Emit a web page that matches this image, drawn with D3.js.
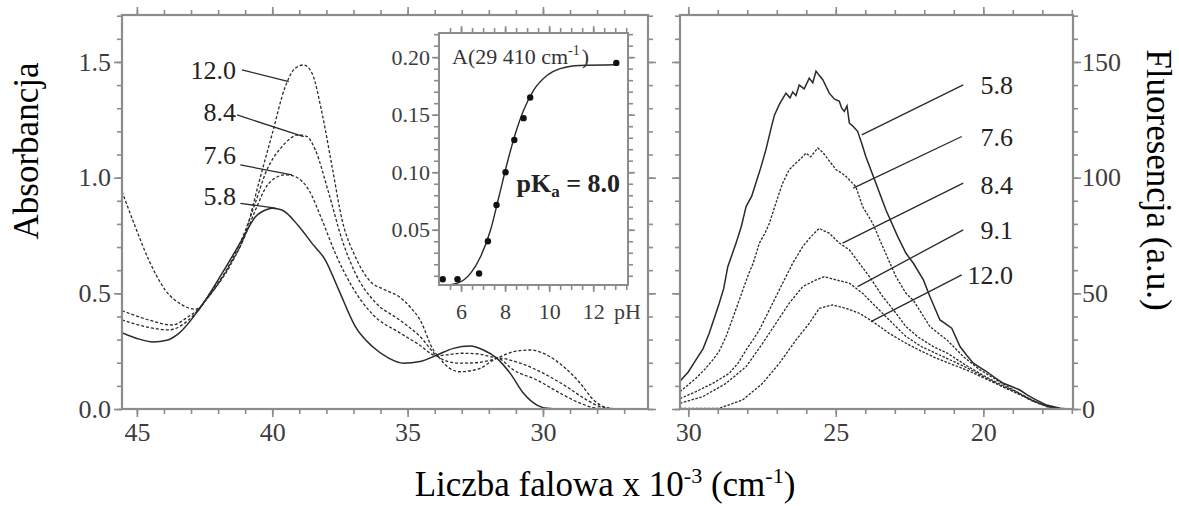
<!DOCTYPE html>
<html>
<head>
<meta charset="utf-8">
<script src="https://cdn.jsdelivr.net/npm/d3@7"></script>
<style>
  body { margin: 0; background: #fff; }
  svg { display: block; }
  svg text { font-family: "Liberation Serif", "Times New Roman", serif !important; }
</style>
</head>
<body>
<svg id="chart" width="1179" height="506"></svg>
<script>
// ---- data ----
// absorbance spectra: [wavenumber x 10^-3, absorbance]
const abs58 = [[45.55,0.33],[45.0,0.305],[44.4,0.29],[43.9,0.297],[43.45,0.327],[42.72,0.428],[41.85,0.587],[41.12,0.731],[40.62,0.831],[40.2,0.862],[40.0,0.868],[39.64,0.86],[39.02,0.79],[38.53,0.716],[38.04,0.644],[37.54,0.514],[36.93,0.356],[36.3,0.27],[35.7,0.22],[35.15,0.198],[34.54,0.205],[33.92,0.233],[33.31,0.262],[32.69,0.272],[32.2,0.255],[31.7,0.219],[31.21,0.154],[30.72,0.068],[30.22,0.017],[29.85,0.003],[29.4,0],[26.1,0]];
const abs76 = [[45.55,0.385],[44.69,0.356],[43.82,0.342],[43.09,0.385],[42.72,0.43],[42.35,0.485],[41.6,0.61],[41.0,0.75],[40.62,0.86],[40.13,0.975],[39.52,1.012],[39.15,1.004],[38.65,0.947],[38.16,0.817],[37.67,0.673],[37.05,0.529],[36.3,0.41],[35.3,0.33],[34.6,0.28],[33.92,0.23],[33.5,0.235],[33.0,0.241],[32.4,0.238],[31.9,0.225],[31.65,0.22],[31.09,0.169],[30.22,0.125],[29.36,0.068],[28.62,0.025],[28.13,0.006],[27.6,0.001],[26.9,0],[26.1,0]];
const abs84 = [[45.55,0.425],[44.56,0.385],[43.7,0.363],[43.09,0.4],[42.72,0.432],[42.35,0.49],[41.6,0.62],[41.0,0.77],[40.6,0.9],[40.25,1.019],[39.64,1.134],[39.02,1.185],[38.71,1.177],[38.41,1.12],[37.91,0.932],[37.42,0.731],[36.93,0.587],[36.2,0.462],[35.3,0.385],[34.54,0.313],[33.92,0.23],[33.5,0.205],[33.06,0.198],[32.5,0.2],[31.9,0.212],[31.65,0.22],[30.84,0.198],[29.98,0.154],[29.12,0.096],[28.38,0.039],[27.88,0.01],[27.4,0.002],[26.9,0],[26.1,0]];
const abs120 = [[45.55,0.94],[45.06,0.788],[44.56,0.644],[43.95,0.514],[43.33,0.45],[42.84,0.431],[42.35,0.486],[41.61,0.615],[40.99,0.76],[40.5,0.976],[40.0,1.19],[39.52,1.393],[39.15,1.473],[38.84,1.487],[38.53,1.451],[38.16,1.278],[37.79,1.048],[37.42,0.817],[36.93,0.658],[36.43,0.558],[35.82,0.514],[35.32,0.486],[34.9,0.44],[34.54,0.385],[34.05,0.255],[33.86,0.226],[33.5,0.18],[33.06,0.161],[32.32,0.176],[31.83,0.212],[31.64,0.222],[31.09,0.248],[30.47,0.255],[29.85,0.233],[29.24,0.183],[28.62,0.111],[28.13,0.039],[27.76,0.01],[27.39,0.002],[26.9,0],[26.1,0]];
const absSeries = [
  { pH: '5.8', values: abs58, solid: true },
  { pH: '7.6', values: abs76, solid: false },
  { pH: '8.4', values: abs84, solid: false },
  { pH: '12.0', values: abs120, solid: false }
];

// fluorescence spectra: [wavenumber x 10^-3, intensity a.u.]
const fl58 = [[30.28,12],[30.0,16],[29.74,21.2],[29.5,26],[29.29,32.7],[28.95,45.7],[28.8,52],[28.66,61.5],[28.38,71.7],[28.2,79],[28.04,87.5],[27.85,92],[27.71,97.6],[27.55,104],[27.37,112],[27.2,121],[27.08,127],[26.9,132],[26.69,136.5],[26.55,134.5],[26.46,137],[26.35,135.5],[26.24,140],[26.07,138.4],[25.9,143],[25.78,141],[25.67,146],[25.55,144],[25.44,142.3],[25.22,136.5],[25.05,134],[24.88,133],[24.8,130],[24.71,128.6],[24.62,131],[24.54,123.6],[24.4,122],[24.26,120],[24.1,114],[23.98,109],[23.64,97.6],[23.3,86],[22.9,74.5],[22.62,67.3],[22.37,63],[22.03,55.8],[21.81,48.6],[21.47,38.5],[21.3,37],[21.07,34.9],[20.79,27],[20.55,23],[20.34,19.8],[19.88,16.1],[19.6,13.5],[19.32,11.1],[19.0,9.5],[18.76,8.2],[18.5,6],[18.31,4.6],[17.85,1.7],[17.4,0.3],[17.1,0]];
const fl76 = [[30.28,7.5],[29.74,13.3],[29.45,17],[29.17,21.2],[28.95,25],[28.72,31.3],[28.5,39],[28.27,47.1],[27.99,57.2],[27.8,63],[27.59,71.7],[27.4,76],[27.25,80.3],[27.03,89],[26.9,94],[26.8,97.6],[26.58,103.4],[26.35,106.3],[26.2,108],[26.01,110.6],[25.85,109],[25.61,112.8],[25.45,111],[25.33,109.1],[24.99,103.4],[24.8,102],[24.65,100.5],[24.32,96.1],[24.09,87.5],[23.75,80.3],[23.41,70.2],[22.96,57.2],[22.62,50],[22.37,47],[21.81,35.6],[21.23,29.8],[20.67,22.6],[20.11,16.9],[19.54,12.5],[18.97,8.2],[18.42,3.9],[17.85,1],[17.3,0]];
const fl84 = [[30.28,4.5],[29.74,7.5],[29.17,11.1],[28.61,15.4],[28.3,20],[28.04,25.5],[27.8,30],[27.59,34.2],[27.14,45.7],[26.8,54.4],[26.46,63],[26.12,70.2],[25.84,74.5],[25.56,78.1],[25.4,77],[25.22,76],[24.88,71.7],[24.54,68.8],[24.2,63],[23.86,57.2],[23.41,48.6],[22.96,41.4],[22.62,35.6],[22.2,31],[21.7,27],[21.2,24],[20.6,19],[20.0,14.5],[19.4,10.5],[18.8,7],[18.3,3.5],[17.8,1],[17.3,0]];
const fl91 = [[30.28,2.5],[29.51,5.3],[28.72,11.1],[28.04,18.3],[27.48,28.4],[27.03,37],[26.58,45.7],[26.12,52.9],[25.67,55.8],[25.39,57.2],[24.99,55.8],[24.54,54.4],[24.09,50],[23.64,44.2],[23.07,37],[22.62,31.3],[22.1,27],[21.6,24],[21.0,20.5],[20.5,17.5],[20.0,14],[19.4,10],[18.8,6.5],[18.3,3.5],[17.8,1],[17.3,0]];
const fl120 = [[30.28,0.3],[28.95,0.3],[28.16,3.9],[27.48,11.1],[26.91,19.8],[26.35,29.8],[25.9,37],[25.56,43.5],[25.11,45],[24.65,43.5],[24.2,41.4],[23.75,37.8],[23.19,32.7],[22.62,28.4],[22.1,25],[21.6,22],[21.0,19],[20.5,16.5],[20.0,13.5],[19.4,10],[18.8,6.5],[18.3,3.5],[17.8,1],[17.3,0]];
const flSeries = [
  { pH: '5.8', values: fl58, solid: true },
  { pH: '7.6', values: fl76, solid: false },
  { pH: '8.4', values: fl84, solid: false },
  { pH: '9.1', values: fl91, solid: false },
  { pH: '12.0', values: fl120, solid: false }
];

// inset: A(29 410 cm-1) vs pH
const insetPoints = [[5.17,0.007],[5.84,0.007],[6.82,0.012],[7.22,0.04],[7.61,0.0715],[8.02,0.1],[8.42,0.128],[8.84,0.147],[9.14,0.165],[13.05,0.195]];
const insetFit = [[5.2,0.002],[5.35,0.002],[5.84,0.0036],[6.44,0.0123],[6.89,0.0267],[7.34,0.0498],[7.72,0.0787],[8.09,0.1076],[8.47,0.1336],[8.84,0.1538],[9.29,0.1711],[9.9,0.1841],[10.5,0.19],[11.4,0.1928],[13.05,0.1934]];

// ticks
const absTicks = [0, 0.5, 1.0, 1.5];
const absMinor = d3.range(0, 1.71, 0.1);
const wnLeftTicks = [45, 40, 35, 30];
const wnLeftMinor = d3.range(27, 46, 1);
const wnRightTicks = [30, 25, 20];
const wnRightMinor = d3.range(17, 31, 1);
const flTicks = [0, 50, 100, 150];
const flMinor = d3.range(0, 171, 10);
const insetYTicks = [0.05, 0.10, 0.15, 0.20];
const insetYMinor = d3.range(0.01, 0.221, 0.01);
const insetXTicks = [6, 8, 10, 12];
const insetXMinor = d3.range(5.5, 13.6, 0.5);

// ---- layout ----
const svg = d3.select('#chart');
const L = { x0: 122, x1: 648, y0: 15, y1: 409 };
const R = { x0: 680, x1: 1073, y0: 15, y1: 409 };
const I = { x0: 439, x1: 628, y0: 33, y1: 285 };

const xL = d3.scaleLinear().domain([45.55, 26.12]).range([L.x0, L.x1]);
const yL = d3.scaleLinear().domain([0, 1.703]).range([L.y1, L.y0]);
const xR = d3.scaleLinear().domain([30.28, 16.96]).range([R.x0, R.x1]);
const yR = d3.scaleLinear().domain([0, 170.3]).range([R.y1, R.y0]);
const xI = d3.scaleLinear().domain([5.0, 13.58]).range([I.x0, I.x1]);
const yI = d3.scaleLinear().domain([0.002, 0.221]).range([I.y1, I.y0]);

const serif = '"Liberation Serif", "Times New Roman", serif';
const frameColor = '#8c8c8c';
const inkColor = '#2a2a2a';
const tickText = '#3d3d3d';

function addAxis(x, y, axis, fontSize) {
  const g = svg.append('g')
    .attr('transform', `translate(${x},${y})`)
    .call(axis)
    .attr('font-family', serif)
    .attr('font-size', fontSize || 26);
  g.select('.domain').remove();
  g.selectAll('.tick line').attr('stroke', frameColor).attr('stroke-width', 1.6);
  g.selectAll('.tick text').attr('fill', tickText)
    .style('font-family', serif).style('font-size', (fontSize || 26) + 'px');
  return g;
}

// clip paths
const defs = svg.append('defs');
defs.append('clipPath').attr('id', 'clipL').append('rect')
  .attr('x', L.x0).attr('y', L.y0).attr('width', L.x1 - L.x0).attr('height', L.y1 - L.y0);
defs.append('clipPath').attr('id', 'clipR').append('rect')
  .attr('x', R.x0).attr('y', R.y0).attr('width', R.x1 - R.x0).attr('height', R.y1 - R.y0);

// ---- left panel: absorbance ----
addAxis(0, L.y1, d3.axisBottom(xL).tickValues(wnLeftMinor).tickFormat('').tickSize(5));
addAxis(0, L.y1, d3.axisBottom(xL).tickValues(wnLeftTicks).tickSize(8).tickPadding(6));
addAxis(0, L.y0, d3.axisTop(xL).tickValues(wnLeftMinor).tickFormat('').tickSize(5));
addAxis(0, L.y0, d3.axisTop(xL).tickValues(wnLeftTicks).tickFormat('').tickSize(8));
addAxis(L.x0, 0, d3.axisLeft(yL).tickValues(absMinor).tickFormat('').tickSize(5));
addAxis(L.x0, 0, d3.axisLeft(yL).tickValues(absTicks).tickFormat(d3.format('.1f')).tickSize(8).tickPadding(3));
addAxis(L.x1, 0, d3.axisRight(yL).tickValues(absMinor).tickFormat('').tickSize(5));
addAxis(L.x1, 0, d3.axisRight(yL).tickValues(absTicks).tickFormat('').tickSize(8));

const lineL = d3.line().x(d => xL(d[0])).y(d => yL(d[1])).curve(d3.curveMonotoneX);
svg.append('g').attr('clip-path', 'url(#clipL)')
  .selectAll('path').data(absSeries).join('path')
  .attr('d', d => lineL(d.values))
  .attr('fill', 'none')
  .attr('stroke', inkColor)
  .attr('stroke-width', d => d.solid ? 1.5 : 1.3)
  .attr('stroke-dasharray', d => d.solid ? null : '3,2');

svg.append('rect').attr('x', L.x0).attr('y', L.y0)
  .attr('width', L.x1 - L.x0).attr('height', L.y1 - L.y0)
  .attr('fill', 'none').attr('stroke', frameColor).attr('stroke-width', 2.2);

// curve labels, left panel (anchor in data units: text end, leader start, leader end)
const absLabelLayout = {
  '12.0': { t: [41.34, 1.466], a: [41.12, 1.466], b: [39.39, 1.415] },
  '8.4':  { t: [41.34, 1.284], a: [41.30, 1.271], b: [38.84, 1.177] },
  '7.6':  { t: [41.34, 1.098], a: [41.18, 1.055], b: [39.27, 1.012] },
  '5.8':  { t: [41.34, 0.920], a: [41.18, 0.889], b: [39.88, 0.868] }
};
const absLab = svg.append('g');
absSeries.forEach(s => {
  const p = absLabelLayout[s.pH];
  absLab.append('line')
    .attr('x1', xL(p.a[0])).attr('y1', yL(p.a[1]))
    .attr('x2', xL(p.b[0])).attr('y2', yL(p.b[1]))
    .attr('stroke', inkColor).attr('stroke-width', 1.3);
  absLab.append('text')
    .attr('x', xL(p.t[0])).attr('y', yL(p.t[1]))
    .attr('dy', '0.35em').attr('text-anchor', 'end')
    .attr('font-size', 26).attr('fill', '#222')
    .text(s.pH);
});

// ---- inset ----
svg.append('rect').attr('x', I.x0).attr('y', I.y0)
  .attr('width', I.x1 - I.x0).attr('height', I.y1 - I.y0)
  .attr('fill', '#fff');
addAxis(0, I.y1, d3.axisBottom(xI).tickValues(insetXMinor).tickFormat('').tickSize(5), 22);
addAxis(0, I.y1, d3.axisBottom(xI).tickValues(insetXTicks).tickSize(7).tickPadding(11), 22);
addAxis(0, I.y0, d3.axisTop(xI).tickValues(insetXMinor).tickFormat('').tickSize(5), 22);
addAxis(0, I.y0, d3.axisTop(xI).tickValues(insetXTicks).tickFormat('').tickSize(7), 22);
addAxis(I.x0, 0, d3.axisLeft(yI).tickValues(insetYMinor).tickFormat('').tickSize(5), 22);
addAxis(I.x0, 0, d3.axisLeft(yI).tickValues(insetYTicks).tickFormat(d3.format('.2f')).tickSize(7).tickPadding(2), 22);
addAxis(I.x1, 0, d3.axisRight(yI).tickValues(insetYMinor).tickFormat('').tickSize(5), 22);
addAxis(I.x1, 0, d3.axisRight(yI).tickValues(insetYTicks).tickFormat('').tickSize(7), 22);

svg.append('text').attr('x', I.x1 + 13).attr('y', I.y1 + 34)
  .attr('font-size', 22).attr('fill', tickText).attr('text-anchor', 'end')
  .text('pH');

svg.append('path')
  .attr('d', d3.line().x(d => xI(d[0])).y(d => yI(d[1])).curve(d3.curveMonotoneX)(insetFit))
  .attr('fill', 'none').attr('stroke', inkColor).attr('stroke-width', 1.4);
svg.append('g').selectAll('circle').data(insetPoints).join('circle')
  .attr('cx', d => xI(d[0])).attr('cy', d => yI(d[1])).attr('r', 3.2)
  .attr('fill', '#111');

svg.append('rect').attr('x', I.x0).attr('y', I.y0)
  .attr('width', I.x1 - I.x0).attr('height', I.y1 - I.y0)
  .attr('fill', 'none').attr('stroke', frameColor).attr('stroke-width', 2);

const insetTitle = svg.append('text').attr('x', I.x0 + 13).attr('y', I.y0 + 31)
  .attr('font-size', 22).attr('fill', '#333');
insetTitle.append('tspan').text('A(29 410 cm');
insetTitle.append('tspan').attr('font-size', 14).attr('dy', -9).text('-1');
insetTitle.append('tspan').attr('dy', 9).attr('dx', 2).text(')');

const pka = svg.append('text').attr('x', I.x1 - 8).attr('y', yI(0.083))
  .attr('text-anchor', 'end').attr('font-size', 26).attr('font-weight', 'bold').attr('fill', '#222');
pka.append('tspan').text('pK');
pka.append('tspan').attr('font-size', 17).attr('dy', 5).text('a');
pka.append('tspan').attr('dy', -5).text(' = 8.0');

// ---- right panel: fluorescence ----
addAxis(0, R.y1, d3.axisBottom(xR).tickValues(wnRightMinor).tickFormat('').tickSize(5));
addAxis(0, R.y1, d3.axisBottom(xR).tickValues(wnRightTicks).tickSize(8).tickPadding(6));
addAxis(0, R.y0, d3.axisTop(xR).tickValues(wnRightMinor).tickFormat('').tickSize(5));
addAxis(0, R.y0, d3.axisTop(xR).tickValues(wnRightTicks).tickFormat('').tickSize(8));
addAxis(R.x0, 0, d3.axisLeft(yR).tickValues(flMinor).tickFormat('').tickSize(5));
addAxis(R.x0, 0, d3.axisLeft(yR).tickValues(flTicks).tickFormat('').tickSize(8));
addAxis(R.x1, 0, d3.axisRight(yR).tickValues(flMinor).tickFormat('').tickSize(5));
addAxis(R.x1, 0, d3.axisRight(yR).tickValues(flTicks).tickSize(8).tickPadding(1));

const lineR = d3.line().x(d => xR(d[0])).y(d => yR(d[1]));
svg.append('g').attr('clip-path', 'url(#clipR)')
  .selectAll('path').data(flSeries).join('path')
  .attr('d', d => lineR(d.values))
  .attr('fill', 'none')
  .attr('stroke', inkColor)
  .attr('stroke-width', d => d.solid ? 1.5 : 1.3)
  .attr('stroke-dasharray', d => d.solid ? null : '2.5,1.5');

svg.append('rect').attr('x', R.x0).attr('y', R.y0)
  .attr('width', R.x1 - R.x0).attr('height', R.y1 - R.y0)
  .attr('fill', 'none').attr('stroke', frameColor).attr('stroke-width', 2.2);

const flLabelLayout = {
  '5.8':  { t: [18.99, 140.1], a: [20.68, 140.1], b: [24.12, 118.5] },
  '7.6':  { t: [18.99, 117.6], a: [20.73, 117.8], b: [24.41, 95.5] },
  '8.4':  { t: [18.99, 96.9],  a: [20.68, 97.6],  b: [24.77, 71.7] },
  '9.1':  { t: [18.99, 77.4],  a: [20.68, 77.4],  b: [24.26, 52.9] },
  '12.0': { t: [18.99, 58.0],  a: [20.73, 58.0],  b: [23.81, 37.8] }
};
const flLab = svg.append('g');
flSeries.forEach(s => {
  const p = flLabelLayout[s.pH];
  flLab.append('line')
    .attr('x1', xR(p.a[0])).attr('y1', yR(p.a[1]))
    .attr('x2', xR(p.b[0])).attr('y2', yR(p.b[1]))
    .attr('stroke', inkColor).attr('stroke-width', 1.3);
  flLab.append('text')
    .attr('x', xR(p.t[0])).attr('y', yR(p.t[1]))
    .attr('dy', '0.35em').attr('text-anchor', 'end')
    .attr('font-size', 26).attr('fill', '#222')
    .text(s.pH);
});

// ---- axis titles ----
svg.append('text')
  .attr('transform', 'translate(38,151) rotate(-90)')
  .attr('text-anchor', 'middle').attr('font-size', 35).attr('fill', '#000')
  .text('Absorbancja');

svg.append('text')
  .attr('transform', 'translate(1147,180) rotate(90)')
  .attr('text-anchor', 'middle').attr('font-size', 35).attr('fill', '#000')
  .text('Fluoresencja (a.u.)');

const xTitle = svg.append('text')
  .attr('x', 605).attr('y', 496)
  .attr('text-anchor', 'middle').attr('font-size', 35).attr('fill', '#000');
xTitle.append('tspan').text('Liczba falowa x 10');
xTitle.append('tspan').attr('font-size', 22).attr('dy', -13).text('-3');
xTitle.append('tspan').attr('dy', 13).text(' (cm');
xTitle.append('tspan').attr('font-size', 22).attr('dy', -13).text('-1');
xTitle.append('tspan').attr('dy', 13).text(')');
</script>
</body>
</html>
